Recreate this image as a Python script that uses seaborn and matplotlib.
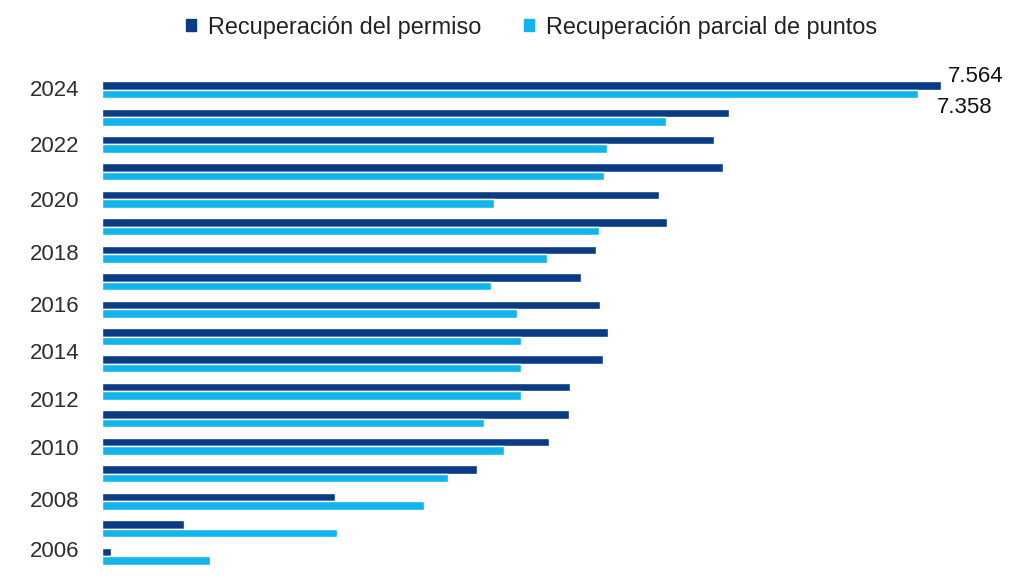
import pandas as pd
import seaborn as sns
import matplotlib.pyplot as plt

# bar rows, top to bottom
years = [str(y) for y in range(2024, 2006, -1)]
permiso = [7564, 5649, 5514, 5595, 5018, 5090, 4450, 4315, 4486,
           4559, 4514, 4216, 4207, 4027, 3378, 2099, 739, 81]
parcial = [7358, 5081, 4550, 4523, 3532, 4477, 4009, 3505, 3739,
           3775, 3775, 3775, 3441, 3622, 3117, 2901, 2117, 973]

series = ['Recuperación del permiso', 'Recuperación parcial de puntos']
colors = ['#0b3b84', '#12b4ec']

# year labels as printed on the left (they drift against the bars)
tick_labels = ['2024', '2022', '2020', '2018', '2016',
               '2014', '2012', '2010', '2008', '2006']
tick_pos = [-0.04, 2.0, 4.0, 5.93, 7.83, 9.54, 11.28, 13.03, 14.93, 16.75]

df = pd.concat([
    pd.DataFrame({'year': years, 'serie': series[0], 'valor': permiso}),
    pd.DataFrame({'year': years, 'serie': series[1], 'valor': parcial})],
    ignore_index=True)

sns.set_style('white')
plt.rcParams['font.family'] = ['Liberation Sans', 'DejaVu Sans']

fig = plt.figure(figsize=(10.24, 5.88), dpi=100)
ax = fig.add_axes([0.0996, 0.031, 0.868, 0.840])

sns.barplot(data=df, y='year', x='valor', hue='serie', order=years,
            hue_order=series, palette=dict(zip(series, colors)),
            orient='h', width=0.62, saturation=1, legend=False, ax=ax)

ax.set_xlim(0, 8010)
ax.set_ylim(17.5, -0.5)
ax.set_xticks([])
ax.set_yticks(tick_pos, tick_labels)
ax.tick_params(axis='y', length=0, pad=16, labelsize=16, labelcolor='#2e2e2e')
ax.set_xlabel('')
ax.set_ylabel('')
sns.despine(ax=ax, left=True, bottom=True)

# value labels for the top year
p_dark = ax.containers[0].patches[0]
p_light = ax.containers[1].patches[0]
ax.annotate(f"{permiso[0]:,}".replace(',', '.'),
            xy=(p_dark.get_width(), p_dark.get_y() + p_dark.get_height() / 2),
            xytext=(5, 6), textcoords='offset points',
            ha='left', va='center', fontsize=16, color='#111111',
            annotation_clip=False)
ax.annotate(f"{parcial[0]:,}".replace(',', '.'),
            xy=(p_light.get_width(), p_light.get_y() + p_light.get_height() / 2),
            xytext=(13, -10), textcoords='offset points',
            ha='left', va='center', fontsize=16, color='#111111',
            annotation_clip=False)

handles = [plt.Rectangle((0, 0), 1, 1, color=c) for c in colors]
fig.legend(handles, series, loc='center', bbox_to_anchor=(0.519, 0.954),
           ncol=2, frameon=False, fontsize=16.9, handlelength=0.45,
           handleheight=0.45, handletextpad=0.5, columnspacing=1.8,
           labelcolor='#222222')

fig.savefig('out.png', dpi=100)
